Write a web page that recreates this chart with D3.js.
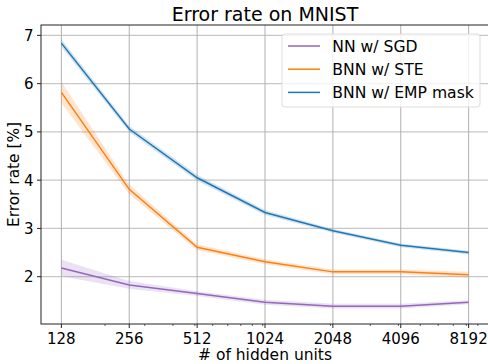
<!DOCTYPE html>
<html>
<head>
<meta charset="utf-8">
<script src="https://cdn.jsdelivr.net/npm/d3@7"></script>
<style>
  body { margin: 0; background: #fff; }
  text { font-family: 'DejaVu Sans', 'Noto Sans', sans-serif; }
</style>
</head>
<body>
<div id="chart"></div>
<script>
// data
const units = [128, 256, 512, 1024, 2048, 4096, 8192];
const sgdMean = [2.18, 1.83, 1.65, 1.47, 1.39, 1.39, 1.47];
const sgdStd  = [0.17, 0.08, 0.05, 0.05, 0.05, 0.05, 0.04];
const steMean = [5.82, 3.81, 2.61, 2.31, 2.10, 2.10, 2.04];
const steStd  = [0.22, 0.10, 0.06, 0.05, 0.05, 0.05, 0.06];
const empMean = [6.84, 5.06, 4.05, 3.33, 2.95, 2.65, 2.50];
const empStd  = [0.08, 0.06, 0.06, 0.05, 0.04, 0.04, 0.04];
const yTicks = [2, 3, 4, 5, 6, 7];
const seriesNames = ['NN w/ SGD', 'BNN w/ STE', 'BNN w/ EMP mask'];
const seriesColors = ['#9467bd', '#ff7f0e', '#1f77b4'];

const width = 488, height = 364;
const margin = { top: 25, right: -1, bottom: 40, left: 41 };
const innerW = width - margin.left - margin.right;
const innerH = height - margin.top - margin.bottom;

const series = [
  { name: seriesNames[0], color: seriesColors[0], mean: sgdMean, std: sgdStd },
  { name: seriesNames[1], color: seriesColors[1], mean: steMean, std: steStd },
  { name: seriesNames[2], color: seriesColors[2], mean: empMean, std: empStd }
];

const svg = d3.select('#chart')
  .append('svg')
  .attr('width', width)
  .attr('height', height)
  .attr('font-family', "'DejaVu Sans', sans-serif");

const g = svg.append('g')
  .attr('transform', `translate(${margin.left},${margin.top})`);

// log2 x axis, padded 5% like matplotlib
const lx = d3.scaleLinear().domain([7 - 0.3, 13 + 0.3]).range([0, innerW]);
const x = d => lx(Math.log2(d));

const y = d3.scaleLinear()
  .domain([1.02, 7.215])
  .range([innerH, 0]);

// grid
g.append('g')
  .selectAll('line')
  .data(yTicks)
  .enter()
  .append('line')
  .attr('x1', 0).attr('x2', innerW)
  .attr('y1', d => y(d)).attr('y2', d => y(d))
  .attr('stroke', '#b0b0b0')
  .attr('stroke-opacity', 0.7)
  .attr('stroke-width', 1.2);

g.append('g')
  .selectAll('line')
  .data(units)
  .enter()
  .append('line')
  .attr('x1', d => x(d)).attr('x2', d => x(d))
  .attr('y1', 0).attr('y2', innerH)
  .attr('stroke', '#b0b0b0')
  .attr('stroke-width', 1);

// bands + lines
const area = d3.area()
  .x((d, i) => x(units[i]))
  .y0(d => y(d[0] - d[1]))
  .y1(d => y(d[0] + d[1]));

const line = d3.line()
  .x((d, i) => x(units[i]))
  .y(d => y(d));

series.forEach(s => {
  g.append('path')
    .datum(s.mean.map((m, i) => [m, s.std[i]]))
    .attr('d', area)
    .attr('fill', s.color)
    .attr('fill-opacity', 0.2);
});

series.forEach(s => {
  g.append('path')
    .datum(s.mean)
    .attr('d', line)
    .attr('fill', 'none')
    .attr('stroke', s.color)
    .attr('stroke-width', 1.5);
});

// axes frame
g.append('rect')
  .attr('width', innerW).attr('height', innerH)
  .attr('fill', 'none')
  .attr('stroke', '#222')
  .attr('stroke-width', 1);

// x ticks
const xAxis = g.append('g').attr('transform', `translate(0,${innerH})`);
xAxis.selectAll('line.major')
  .data(units)
  .enter()
  .append('line')
  .attr('x1', d => x(d)).attr('x2', d => x(d))
  .attr('y1', 0).attr('y2', 4)
  .attr('stroke', '#222');

const minors = [200, 300, 400, 500, 600, 700, 800, 900,
  1000, 2000, 3000, 4000, 5000, 6000, 7000, 8000, 9000];
xAxis.selectAll('line.minor')
  .data(minors)
  .enter()
  .append('line')
  .attr('x1', d => x(d)).attr('x2', d => x(d))
  .attr('y1', 0).attr('y2', 2)
  .attr('stroke', '#222')
  .attr('stroke-width', 0.7);

xAxis.selectAll('text')
  .data(units)
  .enter()
  .append('text')
  .attr('x', d => x(d))
  .attr('y', 19.5)
  .attr('text-anchor', 'middle')
  .attr('font-size', 15)
  .attr('fill', '#000')
  .text(d => d);

// y ticks
const yAxis = g.append('g');
yAxis.selectAll('line')
  .data(yTicks)
  .enter()
  .append('line')
  .attr('x1', -4).attr('x2', 0)
  .attr('y1', d => y(d)).attr('y2', d => y(d))
  .attr('stroke', '#222');

yAxis.selectAll('text')
  .data(yTicks)
  .enter()
  .append('text')
  .attr('x', -7.5)
  .attr('y', d => y(d))
  .attr('dy', '0.36em')
  .attr('text-anchor', 'end')
  .attr('font-size', 15)
  .attr('fill', '#000')
  .text(d => d);

// labels
svg.append('text')
  .attr('x', margin.left + innerW / 2)
  .attr('y', 20.5)
  .attr('text-anchor', 'middle')
  .attr('font-size', 19)
  .text('Error rate on MNIST');

svg.append('text')
  .attr('x', margin.left + innerW / 2)
  .attr('y', 360)
  .attr('text-anchor', 'middle')
  .attr('font-size', 15.5)
  .text('# of hidden units');

svg.append('text')
  .attr('transform', `translate(18.8,${margin.top + innerH / 2}) rotate(-90)`)
  .attr('text-anchor', 'middle')
  .attr('font-size', 15.4)
  .text('Error rate [%]');

// legend
const legend = svg.append('g').attr('transform', 'translate(282,34)');
legend.append('rect')
  .attr('width', 198).attr('height', 73)
  .attr('rx', 3)
  .attr('fill', '#fff')
  .attr('fill-opacity', 0.8)
  .attr('stroke', '#ddd');

series.forEach((s, i) => {
  const row = legend.append('g').attr('transform', `translate(0,${12 + i * 23.2})`);
  row.append('line')
    .attr('x1', 6).attr('x2', 38)
    .attr('stroke', s.color)
    .attr('stroke-width', 1.5);
  row.append('text')
    .attr('x', 50.3)
    .attr('dy', '0.36em')
    .attr('font-size', 15.6)
    .text(s.name);
});
</script>
</body>
</html>
